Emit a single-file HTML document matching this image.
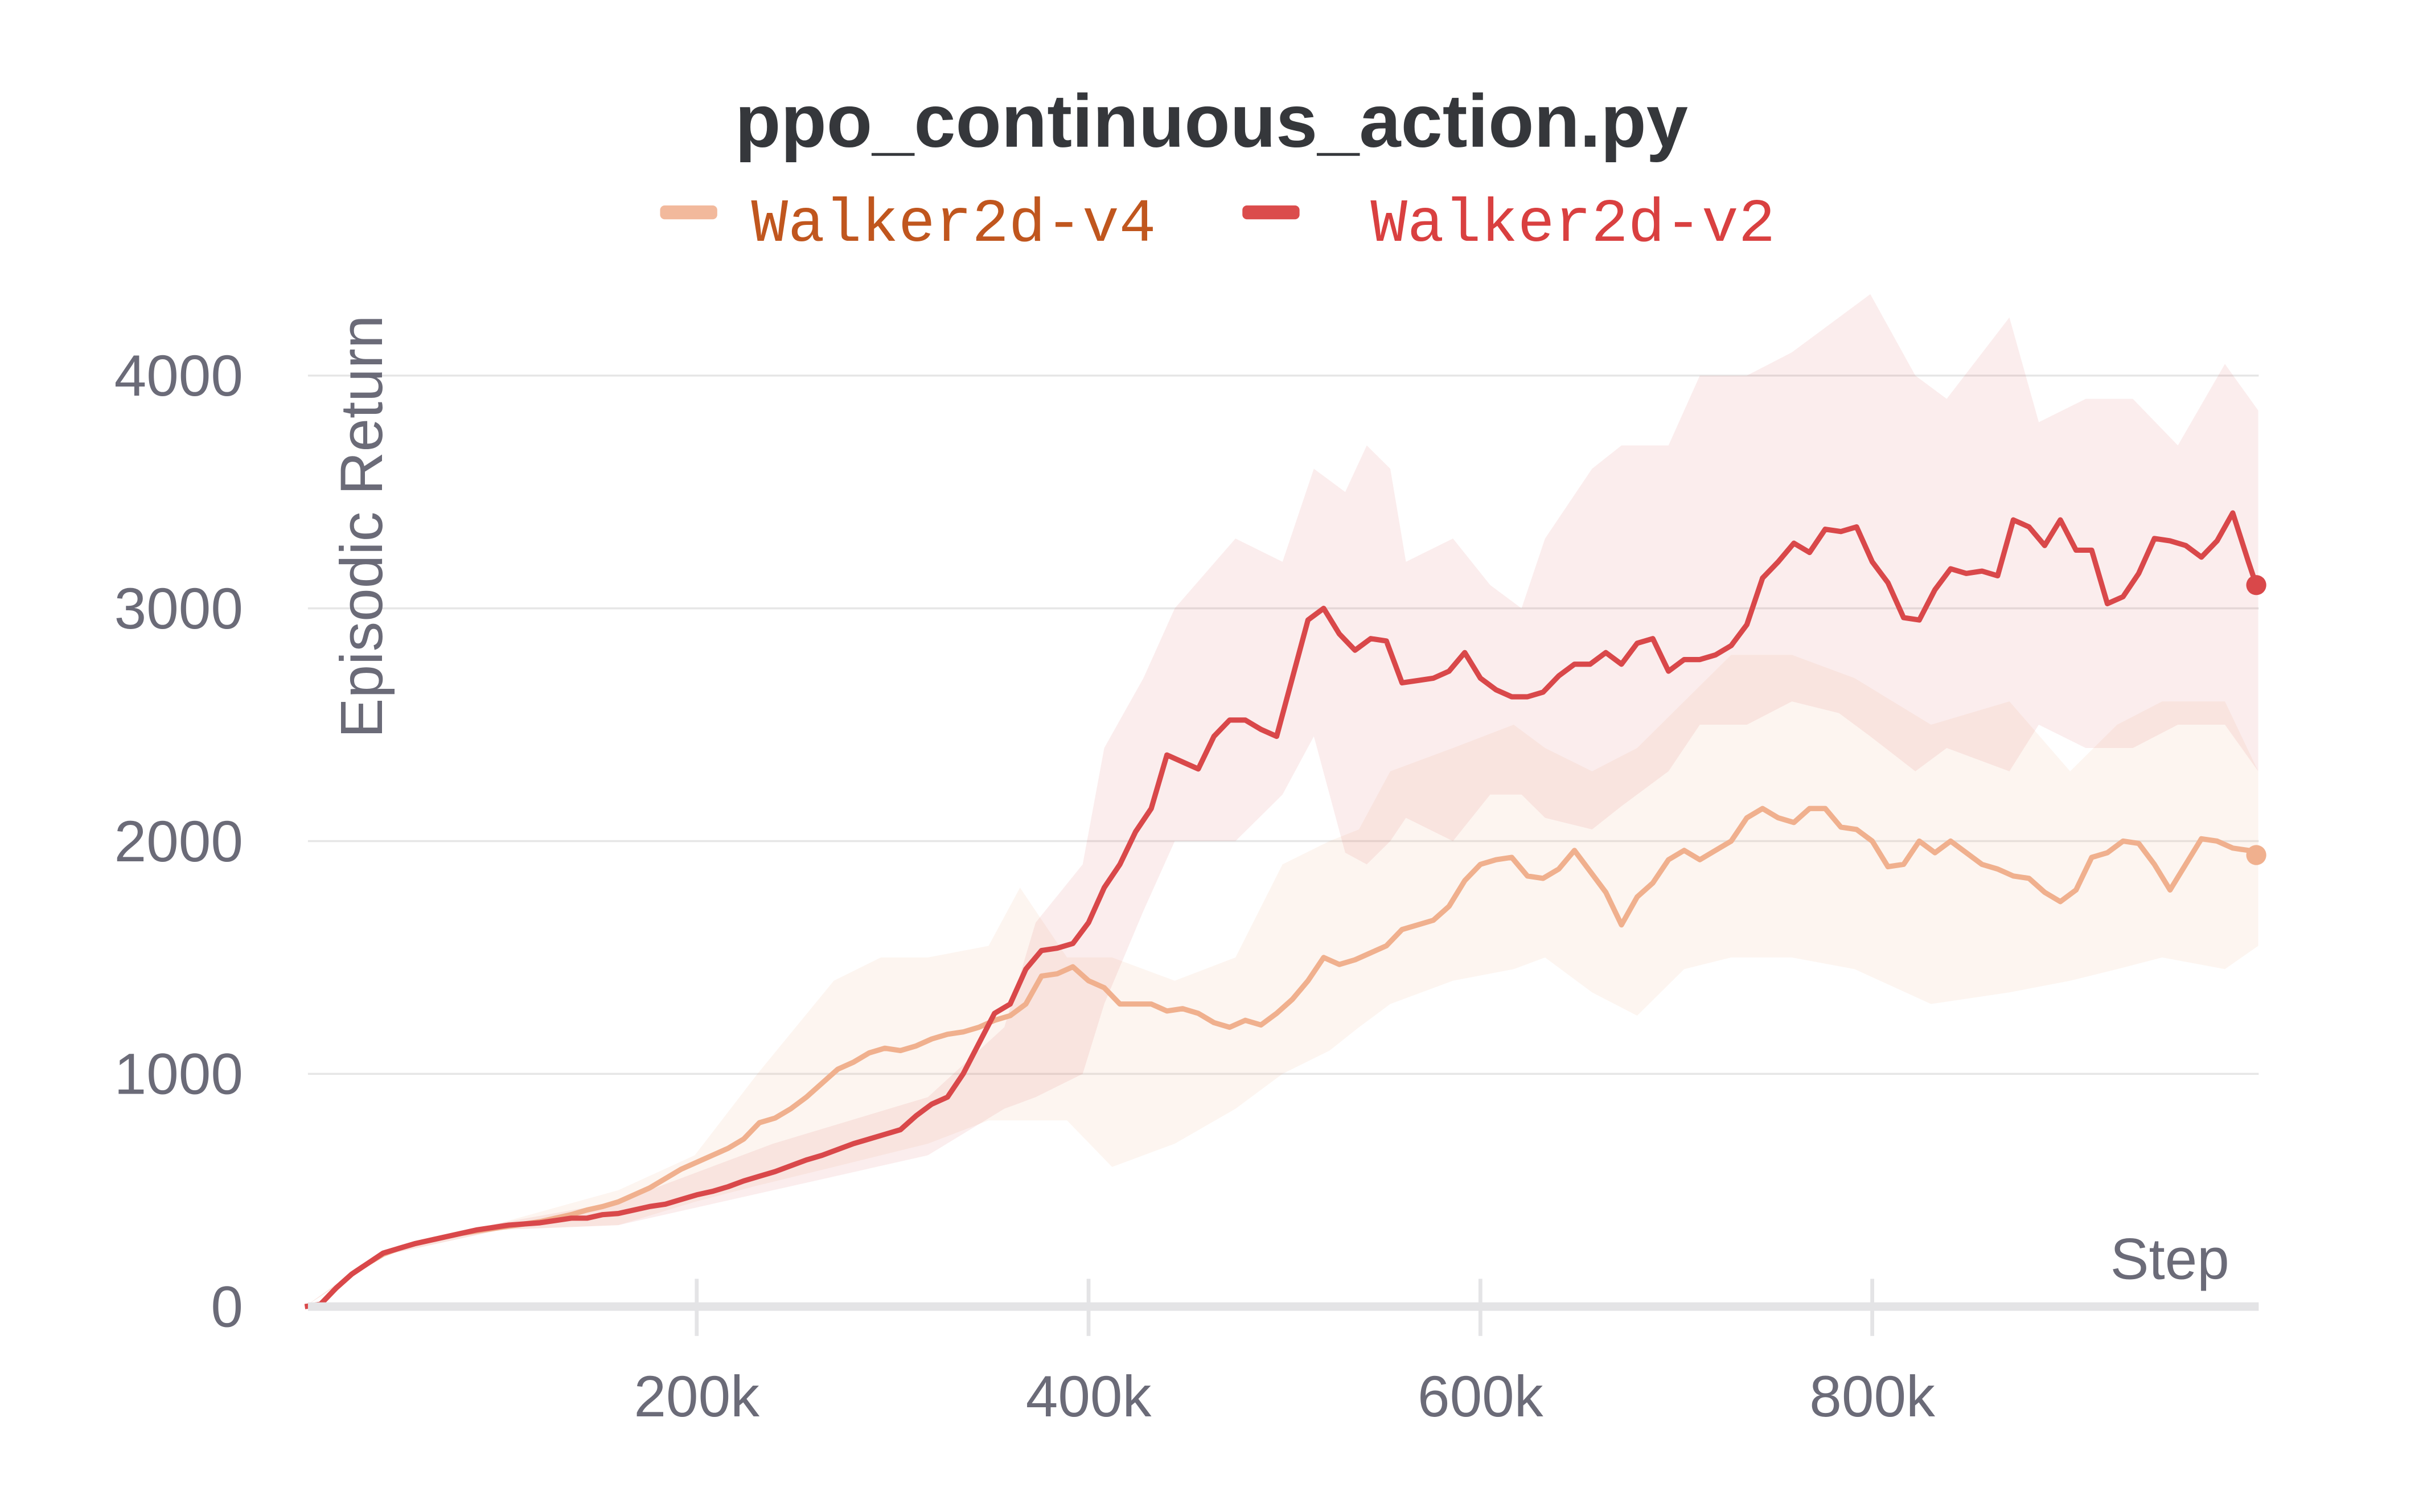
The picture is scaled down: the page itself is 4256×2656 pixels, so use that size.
<!DOCTYPE html>
<html><head><meta charset="utf-8"><style>
html,body{margin:0;padding:0;background:#fff}
svg{display:block}
</style></head><body>
<svg id="chart" width="4256" height="2656" viewBox="0 0 1568 979" xmlns="http://www.w3.org/2000/svg">
<rect width="1568" height="979" fill="#fff"/>
<text x="784" y="95" text-anchor="middle" font-family="Liberation Sans, sans-serif" font-weight="bold" font-size="48.5" fill="#35373b">ppo_continuous_action.py</text>
<g>
<rect x="427" y="133" width="37" height="9" rx="3" fill="#f2b99c"/>
<text x="486" y="156" font-family="Liberation Mono, monospace" font-size="39.7" fill="#c0561e">Walker2d-v4</text>
<rect x="804" y="133" width="37" height="9" rx="3" fill="#db4c4c"/>
<text x="887" y="156" font-family="Liberation Mono, monospace" font-size="39.7" fill="#d94040">Walker2d-v2</text>
</g>
<g id="grid"></g>
<g id="bands"></g>
<g id="lines"></g>
<g id="axes"></g>
<text transform="translate(247,341) rotate(-90)" text-anchor="middle" font-family="Liberation Sans, sans-serif" font-size="38.8" fill="#6b6b78">Episodic Return</text>
<text x="1443" y="828" text-anchor="end" font-family="Liberation Sans, sans-serif" font-size="37.5" fill="#6b6b78">Step</text>
</svg>
<script>
const yTicks=[0,1000,2000,3000,4000];
const xTicks=[200,400,600,800];
const xTickLabels=["200k","400k","600k","800k"];
const steps=[0,8,16,24,32,40,48,56,64,72,80,88,96,104,112,120,128,136,144,152,160,168,176,184,192,200,208,216,224,232,240,248,256,264,272,280,288,296,304,312,320,328,336,344,352,360,368,376,384,392,400,408,416,424,432,440,448,456,464,472,480,488,496,504,512,520,528,536,544,552,560,568,576,584,592,600,608,616,624,632,640,648,656,664,672,680,688,696,704,712,720,728,736,744,752,760,768,776,784,792,800,808,816,824,832,840,848,856,864,872,880,888,896,904,912,920,928,936,944,952,960,968,976,984,992,996];
const v2Mean=[0,10,80,140,185,230,250,270,285,300,315,330,340,350,355,360,370,380,380,395,400,415,430,440,460,480,495,515,540,560,580,605,630,650,675,700,720,740,760,820,870,900,1000,1130,1260,1300,1450,1530,1540,1560,1650,1800,1900,2040,2140,2370,2340,2310,2450,2520,2520,2480,2450,2700,2950,3000,2890,2820,2870,2860,2680,2690,2700,2730,2810,2700,2650,2620,2620,2640,2710,2760,2760,2810,2760,2850,2870,2730,2780,2780,2800,2840,2930,3130,3200,3280,3240,3340,3330,3350,3200,3110,2960,2950,3080,3170,3150,3160,3140,3380,3350,3270,3380,3250,3250,3020,3050,3150,3300,3290,3270,3220,3290,3410,3200,3100];
const v4Mean=[0,10,80,140,185,225,250,270,285,300,315,325,335,345,355,365,380,395,415,430,450,480,510,550,590,620,650,680,720,790,810,850,900,960,1020,1050,1090,1110,1100,1120,1150,1170,1180,1200,1230,1250,1300,1420,1430,1460,1400,1370,1300,1300,1300,1270,1280,1260,1220,1200,1230,1210,1260,1320,1400,1500,1470,1490,1520,1550,1620,1640,1660,1720,1830,1900,1920,1930,1850,1840,1880,1960,1870,1780,1640,1760,1820,1920,1960,1920,1960,2000,2100,2140,2100,2080,2140,2140,2060,2050,2000,1890,1900,2000,1950,2000,1950,1900,1880,1850,1840,1780,1740,1790,1930,1950,2000,1990,1900,1790,1900,2010,2000,1970,1960,1940,2080,2100,2080];
const v2BandSteps=[0,40,100,160,239,318,357,373,397,408,428,444,475,499,515,531,542,554,562,586,605,621,633,657,672,696,712,736,759,783,799,822,838,870,885,909,933,956,980,997];
const v2Hi=[0,240,360,450,700,900,1200,1650,1900,2400,2700,3000,3300,3200,3600,3500,3700,3600,3200,3300,3100,3000,3300,3600,3700,3700,4000,4000,4100,4250,4350,4000,3900,4250,3800,3900,3900,3700,4050,3850];
const v2Lo=[0,220,330,350,500,650,850,900,1000,1300,1700,2000,2000,2200,2450,1950,1900,2000,2100,2000,2200,2200,2100,2050,2150,2300,2500,2500,2600,2550,2450,2300,2400,2300,2500,2400,2400,2500,2500,2300];
const v4BandSteps=[0,40,100,160,199,231,270,294,318,349,365,389,412,444,475,499,523,538,554,586,617,633,657,680,704,728,759,791,830,870,901,925,948,980,997];
const v4Hi=[0,240,360,500,650,1000,1400,1500,1500,1550,1800,1500,1500,1400,1500,1900,2000,2050,2300,2400,2500,2400,2300,2400,2600,2800,2800,2700,2500,2600,2300,2500,2600,2600,2300];
const v4Lo=[0,220,330,350,450,520,600,650,700,800,800,800,600,700,850,1000,1100,1200,1300,1400,1450,1500,1350,1250,1450,1500,1500,1450,1300,1350,1400,1450,1500,1450,1550];

const NS="http://www.w3.org/2000/svg";
const X0=197,XS=1.2685,Y0=846,YS=0.1507;
function sx(k){return X0+k*XS;}
function sy(v){return Y0-v*YS;}
function mk(tag,attrs,parent){const e=document.createElementNS(NS,tag);for(const k in attrs)e.setAttribute(k,attrs[k]);parent.appendChild(e);return e;}
const grid=document.getElementById('grid'),bands=document.getElementById('bands'),lines=document.getElementById('lines'),axes=document.getElementById('axes');
yTicks.forEach(v=>{
  if(v>0){const g=mk('line',{x1:199,x2:1462,y1:sy(v),y2:sy(v),stroke:'#e6e6e6','stroke-width':1.3},grid);
  
  }
  const t=mk('text',{x:157,y:sy(v)+13,'text-anchor':'end','font-family':'Liberation Sans, sans-serif','font-size':37.5,fill:'#6b6b78'},axes);
  t.textContent=v;
  
  
});
function band(st,lo,hi,fill,op){
  let d='M'+st.map((s,i)=>sx(s)+','+sy(hi[i])).join('L');
  for(let i=st.length-1;i>=0;i--)d+='L'+sx(st[i])+','+sy(lo[i]);
  return mk('path',{d:d+'Z',fill:fill,'fill-opacity':op},bands);
}
const b4=band(v4BandSteps,v4Lo,v4Hi,'#f2b99c',0.15);


const b2=band(v2BandSteps,v2Lo,v2Hi,'#db4c4c',0.1);


function line(vals,color){
  const d='M'+steps.map((s,i)=>sx(s)+','+sy(vals[i])).join('L');
  return mk('path',{d:d,fill:'none',stroke:color,'stroke-width':3.4,'stroke-linejoin':'round'},lines);
}
const l4=line(v4Mean,'#f0b08e');


const l2=line(v2Mean,'#d9484a');


const last=steps.length-1;
const d4=mk('circle',{cx:sx(steps[last]),cy:sy(v4Mean[last]),r:6.5,fill:'#f0b08e'},lines);


const d2=mk('circle',{cx:sx(steps[last]),cy:sy(v2Mean[last]),r:6.5,fill:'#d9484a'},lines);


const ax=mk('line',{x1:199,x2:1462,y1:Y0,y2:Y0,stroke:'#e4e4e6','stroke-width':5.5},axes);


xTicks.forEach((k,i)=>{
  const tk=mk('line',{x1:sx(k),x2:sx(k),y1:828,y2:865,stroke:'#e4e4e6','stroke-width':2.5},axes);
  
  
  const t=mk('text',{x:sx(k),y:917,'text-anchor':'middle','font-family':'Liberation Sans, sans-serif','font-size':37.5,fill:'#6b6b78'},axes);
  t.textContent=xTickLabels[i];
  
  
});
</script>
</body></html>
